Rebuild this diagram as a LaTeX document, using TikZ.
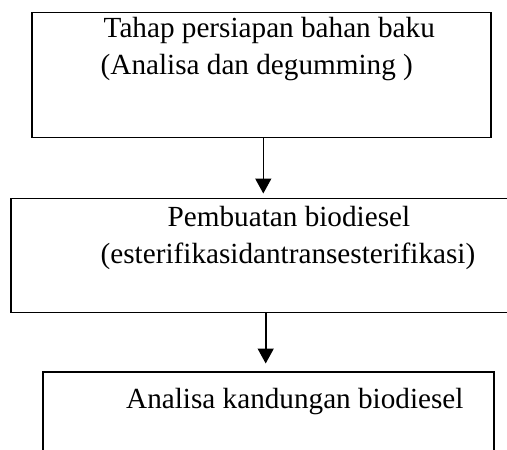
\documentclass[tikz,border=0pt]{standalone}
\usepackage{fontspec}
\setmainfont{Liberation Serif}
\usetikzlibrary{arrows.meta}
\begin{document}
\begin{tikzpicture}[x=1pt,y=-1pt,
  stepbox/.style={draw=black,line width=1.6pt,rectangle,anchor=north west,inner sep=0pt},
  lbl/.style={anchor=base west,inner sep=0pt,font=\fontsize{29.2}{34}\selectfont},
  arr/.style={draw=black,line width=1.6pt,-{Triangle[width=16pt,length=15pt]}}]
\useasboundingbox (0,0) rectangle (507,450);
\node[stepbox,minimum width=459pt,minimum height=125pt] (b1) at (31,11.5) {};
\node[stepbox,minimum width=520pt,minimum height=114pt] (b2) at (10,197.5) {};
\node[stepbox,minimum width=451pt,minimum height=120pt] (b3) at (42,371) {};
\node[lbl] (t1a) at (103.5,37.3) {Tahap persiapan bahan baku};
\node[lbl] (t1b) at (100.5,74) {(Analisa dan degumming )};
\node[lbl] (t2a) at (167.5,226.7) {Pembuatan biodiesel};
\node[lbl] (t2b) at (100.5,263.3) {(esterifikasidantransesterifikasi)};
\node[lbl] (t3a) at (126,408.5) {Analisa kandungan biodiesel};
\coordinate (a1) at (263.3,193.5);
\coordinate (a2) at (265.7,363.5);
\draw[arr] (b1.south -| a1) -- (a1);
\draw[arr] (b2.south -| a2) -- (a2);
\end{tikzpicture}
\end{document}
